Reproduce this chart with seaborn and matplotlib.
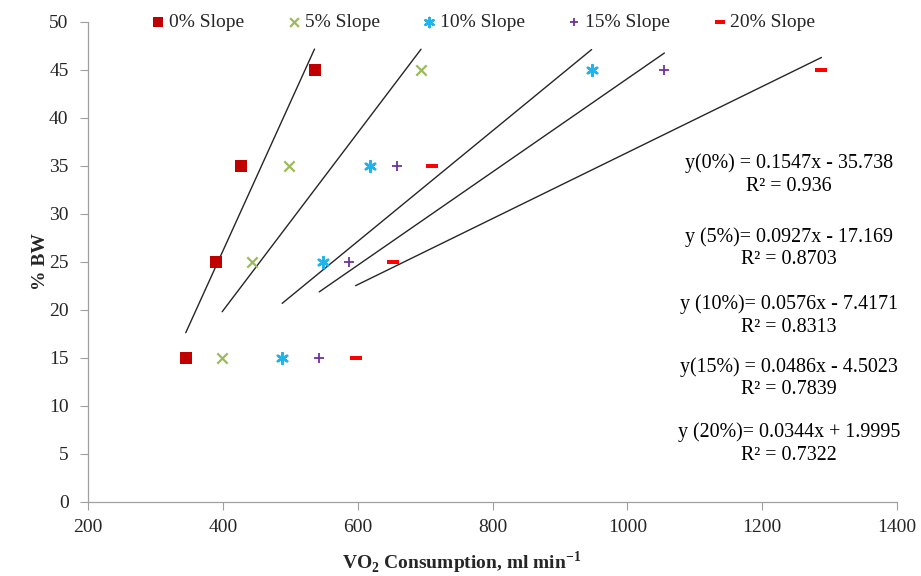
import numpy as np
import pandas as pd
import matplotlib
matplotlib.use("Agg")
import matplotlib.pyplot as plt
import seaborn as sns

sns.set_theme(style="white")
plt.rcParams['font.family'] = ['Liberation Serif', 'DejaVu Serif']
plt.rcParams['mathtext.fontset'] = 'custom'
plt.rcParams['mathtext.rm'] = 'Liberation Serif'
plt.rcParams['mathtext.bf'] = 'Liberation Serif:bold'

series = ["0% Slope", "5% Slope", "10% Slope", "15% Slope", "20% Slope"]
bw = [15, 25, 35, 45]
vo2_0 = [345, 390, 427, 536]
vo2_5 = [399, 444, 498, 694]
vo2_10 = [488, 549, 618, 947]
vo2_15 = [543, 587, 658, 1055]
vo2_20 = [597, 653, 710, 1288]
slopes = [0.1547, 0.0927, 0.0576, 0.0486, 0.0344]
intercepts = [-35.738, -17.169, -7.4171, -4.5023, 1.9995]
eq_labels = ["y(0%) = 0.1547x - 35.738", "y (5%)= 0.0927x - 17.169",
             "y (10%)= 0.0576x - 7.4171", "y(15%) = 0.0486x - 4.5023",
             "y (20%)= 0.0344x + 1.9995"]
r2_labels = ["R² = 0.936", "R² = 0.8703", "R² = 0.8313", "R² = 0.7839", "R² = 0.7322"]
x_ticks = [200, 400, 600, 800, 1000, 1200, 1400]
y_ticks = [0, 5, 10, 15, 20, 25, 30, 35, 40, 45, 50]

vo2_all = [vo2_0, vo2_5, vo2_10, vo2_15, vo2_20]
colors = ["#C00000", "#9BBB59", "#1FB4EC", "#7030A0", "#FF0000"]
dash = [(-1, -0.38), (1, -0.38), (1, 0.38), (-1, 0.38), (-1, -0.38)]
markers = ["s", "x", (6, 2, 0), "+", dash]
sizes = [70, 55, 60, 55, 70]
lws = [0, 1.6, 1.8, 1.3, 0]

fig = plt.figure(figsize=(9.21, 5.76), dpi=100)
ax = fig.add_axes([88/921, 1-502/576, (897-88)/921, (502-22)/576])

for i, name in enumerate(series):
    df = pd.DataFrame({"x": vo2_all[i], "y": bw})
    xs = np.array([min(vo2_all[i]), max(vo2_all[i])])
    line_df = pd.DataFrame({"x": xs, "y": slopes[i] * xs + intercepts[i]})
    sns.lineplot(data=line_df, x="x", y="y", color="#262626", lw=1.0, ax=ax,
                 legend=False, zorder=1)
    sns.scatterplot(data=df, x="x", y="y", marker=markers[i], color=colors[i],
                    s=sizes[i], linewidth=lws[i], edgecolor=colors[i] if lws[i] == 0 else None,
                    ax=ax, label=name, zorder=3)

ax.set_xlim(200, 1400)
ax.set_ylim(0, 50)
ax.set_xticks(x_ticks)
ax.set_yticks(y_ticks)
ax.tick_params(axis='both', labelsize=14, colors='#262626', direction='out',
               length=6, width=0.8, color='#A0A0A0', left=True, bottom=True)
ax.tick_params(axis='y', pad=8)
ax.tick_params(axis='x', pad=6)
for s in ['top', 'right']:
    ax.spines[s].set_visible(False)
for s in ['left', 'bottom']:
    ax.spines[s].set_color('#A0A0A0')
    ax.spines[s].set_linewidth(0.9)

ax.set_xlabel(r"VO$_\mathbf{2}$ Consumption, ml min$^\mathbf{-1}$", fontsize=14,
              fontweight='bold')
ax.xaxis.set_label_coords(0.462, -0.127)
ax.xaxis.label.set_va('center')
ax.set_ylabel("% BW", fontsize=14, fontweight='bold')
ax.yaxis.set_label_coords(-0.059, 0.5)
ax.yaxis.label.set_va('center')

leg = ax.legend(loc='center', bbox_to_anchor=(0.487, 1.0), ncol=5, frameon=False,
                fontsize=14, handlelength=1.0, handletextpad=0.05, columnspacing=2.05,
                markerscale=0.85, borderaxespad=0)

eq_y = [163, 237, 304, 367, 432]
for i in range(5):
    fig.text(789/921, 1 - eq_y[i]/576, eq_labels[i], ha='center', va='center',
             fontsize=14.4, color='black')
    fig.text(789/921, 1 - (eq_y[i] + 23)/576, r2_labels[i], ha='center', va='center',
             fontsize=14.4, color='black')

fig.savefig("out.png", dpi=100)
